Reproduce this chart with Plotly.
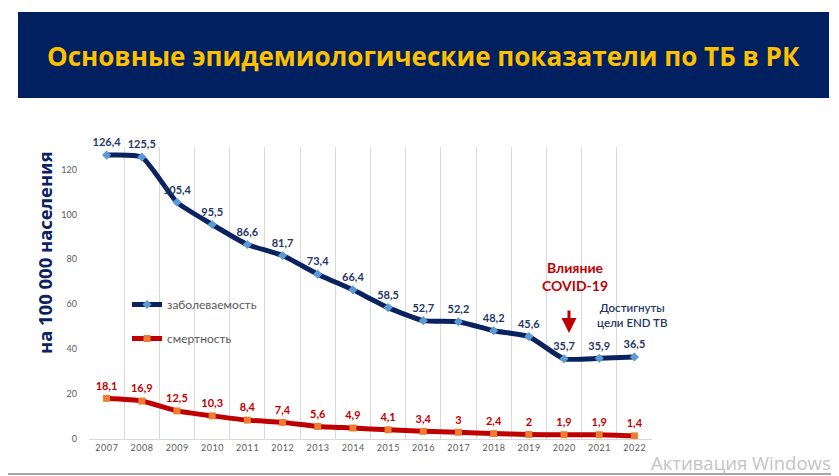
import plotly.graph_objects as go

years = [2007, 2008, 2009, 2010, 2011, 2012, 2013, 2014, 2015, 2016, 2017, 2018, 2019, 2020, 2021, 2022]
incidence = [126.4, 125.5, 105.4, 95.5, 86.6, 81.7, 73.4, 66.4, 58.5, 52.7, 52.2, 48.2, 45.6, 35.7, 35.9, 36.5]
mortality = [18.1, 16.9, 12.5, 10.3, 8.4, 7.4, 5.6, 4.9, 4.1, 3.4, 3, 2.4, 2, 1.9, 1.9, 1.4]
y_ticks = [0, 20, 40, 60, 80, 100, 120]

cats = [str(y) for y in years]
tick_text = ["\u200a".join(str(y)) for y in years]


def fmt(v):
    return (str(v) if v % 1 else str(int(v))).replace(".", ",")


NAVY = "#0b2260"
RED = "#c00000"
LABEL_FONT = "Lato, Carlito, Open Sans, sans-serif"

# page offset of the figure (default body margin)
OFF = 8
# plot area in page pixels
L, R, T, B = 89, 652, 147, 439
W, H = 839, 476


def px(xp):
    return (xp - L) / (R - L)


def py(yp):
    return (B - yp) / (B - T)


fig = go.Figure()

fig.add_trace(go.Scatter(
    x=cats, y=incidence, name="заболеваемость", mode="lines+markers",
    line=dict(color=NAVY, width=5, shape="spline", smoothing=0.5),
    marker=dict(symbol="diamond", size=7, color="#5b9bd5"),
    legendgroup="a",
))
fig.add_trace(go.Scatter(
    x=cats, y=mortality, name="смертность", mode="lines+markers",
    line=dict(color=RED, width=5, shape="spline", smoothing=0.5),
    marker=dict(symbol="square", size=7, color="#ed7d31"),
    legendgroup="b",
))
fig.add_trace(go.Scatter(
    x=cats, y=incidence, mode="markers+text", text=[fmt(v) for v in incidence],
    textposition="top center", showlegend=False, hoverinfo="skip", cliponaxis=False,
    marker=dict(size=8, opacity=0),
    textfont=dict(family=LABEL_FONT, size=11, color="#1f3864", weight="bold"),
))
fig.add_trace(go.Scatter(
    x=cats, y=mortality, mode="markers+text", text=[fmt(v) for v in mortality],
    textposition="top center", showlegend=False, hoverinfo="skip", cliponaxis=False,
    marker=dict(size=8, opacity=0),
    textfont=dict(family=LABEL_FONT, size=11, color=RED, weight="bold"),
))

shapes = [
    # slide border (right and bottom edges visible)
    dict(type="line", xref="paper", yref="paper",
         x0=px(837), x1=px(837), y0=py(474), y1=py(OFF),
         line=dict(color="#a6a6a6", width=2)),
    dict(type="line", xref="paper", yref="paper",
         x0=px(OFF), x1=px(838), y0=py(474), y1=py(474),
         line=dict(color="#a6a6a6", width=2)),
    # title banner
    dict(type="rect", xref="paper", yref="paper",
         x0=px(18), x1=px(829), y0=py(98), y1=py(12),
         line=dict(width=0), fillcolor="#002060", layer="below"),
]

annotations = [
    dict(text="<b>Основные эпидемиологические показатели по ТБ в РК</b>",
         xref="paper", yref="paper", x=px(423), y=py(56), showarrow=False,
         xanchor="center", yanchor="middle",
         font=dict(family="Open Sans, sans-serif", size=26, color="#ffc000")),
    dict(text="<span style=\"font-stretch:condensed\"><b>на 100 000 населения</b></span>",
         textangle=-90,
         xref="paper", yref="paper", x=px(44), y=py(253), showarrow=False,
         xanchor="center", yanchor="middle",
         font=dict(family="Liberation Sans Narrow, Noto Sans, sans-serif", size=18.5,
                   color="#0b2260")),
    dict(text="<b>Влияние<br>COVID-19</b>", xref="paper", yref="paper",
         x=px(575), y=py(276), showarrow=False, xanchor="center", yanchor="middle",
         font=dict(family=LABEL_FONT, size=14, color=RED)),
    dict(text="", xref="paper", yref="paper", x=px(569), y=py(333),
         ax=0, ay=-24, showarrow=True, arrowhead=2, arrowsize=1, arrowwidth=3,
         arrowcolor=RED),
    dict(text="Достигнуты<br>цели END TB", xref="paper", yref="paper",
         x=px(632), y=py(315), showarrow=False, xanchor="center", yanchor="middle",
         font=dict(family=LABEL_FONT, size=11.5, color="#1f3864", weight=600)),
    dict(text="Активация Windows", xref="paper", yref="paper",
         x=px(741), y=py(463), showarrow=False, xanchor="center", yanchor="middle",
         font=dict(family="Open Sans, sans-serif", size=18.5, color="#c4c4c4")),
]

fig.update_layout(
    width=W, height=H,
    margin=dict(l=L - OFF, r=W - (R - OFF), t=T - OFF, b=H - (B - OFF)),
    paper_bgcolor="white", plot_bgcolor="white",
    showlegend=True,
    legend=dict(x=px(127), y=py(290), xanchor="left", yanchor="top",
                bgcolor="rgba(0,0,0,0)", tracegroupgap=15, itemwidth=30,
                font=dict(family=LABEL_FONT, size=12, color="#595959")),
    shapes=shapes, annotations=annotations,
    xaxis=dict(type="category", range=[-0.5, 15.5], tickson="boundaries",
               tickvals=cats, ticktext=tick_text,
               showgrid=True, gridcolor="#d9d9d9", gridwidth=1,
               showline=True, linecolor="#d9d9d9", linewidth=1, ticks="",
               tickfont=dict(family=LABEL_FONT, size=9, color="#595959")),
    yaxis=dict(range=[0, 130], tickvals=y_ticks, showgrid=False, zeroline=False,
               showline=False, ticks="", ticklabelstandoff=11,
               tickfont=dict(family=LABEL_FONT, size=9, color="#595959")),
)

fig.write_html("out.html")
